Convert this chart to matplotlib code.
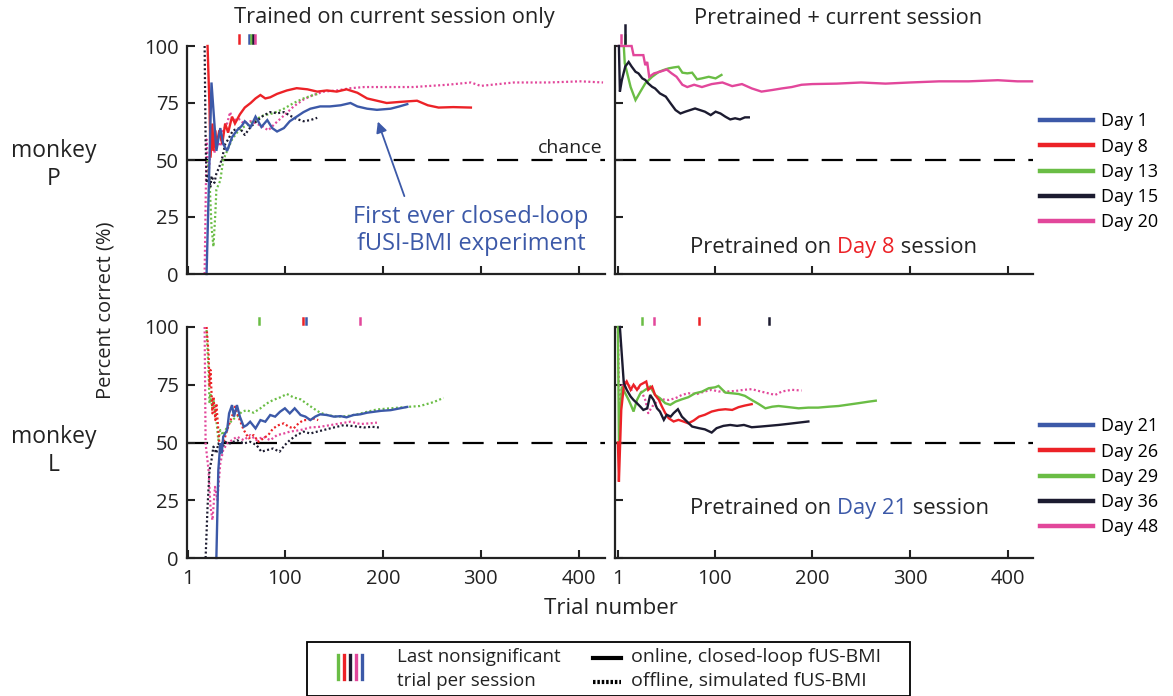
import matplotlib
matplotlib.use("Agg")
import matplotlib.pyplot as plt
from matplotlib.lines import Line2D
from matplotlib.patches import Rectangle

plt.rcParams['font.family'] = ['Open Sans', 'DejaVu Sans']

BLUE = '#3c59a8'
RED = '#ec2227'
GREEN = '#6abd45'
DARK = '#1c1b30'
PINK = '#e2479b'

# ---------------- monkey P, trained on current session only ----------------
P_own_day1_t = [20, 25, 28, 30, 34, 37, 41, 46, 51, 56, 59, 65, 70, 76, 82, 87, 92, 99, 105, 112,
                119, 126, 136, 146, 157, 167, 174, 184, 194, 208, 217, 225]
P_own_day1_y = [0, 84, 66, 54, 64, 57, 54, 60, 63, 65, 67, 64.5, 69, 64.5, 67.5, 64, 62.5, 64, 67, 69,
                71, 72.5, 73.5, 73.5, 74, 75, 73.5, 72.5, 72, 72.5, 73.5, 74.5]
P_own_day8_t = [21, 23, 24, 26, 27, 29, 30, 33, 36, 39, 42, 46, 49, 54, 59, 65, 70, 75, 80, 85, 92,
                102, 112, 123, 133, 143, 153, 163, 174, 184, 194, 204, 218, 235, 246, 257, 272, 290]
P_own_day8_y = [100, 73, 51, 66, 54, 63, 56, 63, 57, 66, 62, 69, 66, 70, 73, 75, 77, 78.5, 77, 77.5, 79,
                80.5, 81.5, 81, 80, 80.5, 80, 81, 79.5, 77, 76, 75, 75.5, 76, 74, 73, 73.2, 73]
P_own_day13_t = [21, 23, 25, 27, 29, 30, 34, 37, 41, 46, 51, 58, 65, 71, 78, 88, 99, 109, 119, 129, 134]
P_own_day13_y = [50, 41, 21, 12, 27, 37, 41, 50, 54, 59, 62, 64.5, 66, 68, 69.5, 70.5, 72.5, 75, 77, 78.5, 79]
P_own_day15_t = [18, 19, 20, 22, 24, 25, 28, 30, 33, 36, 39, 42, 47, 54, 59, 65, 71, 78, 85, 92, 99,
                 105, 112, 119, 126, 133]
P_own_day15_y = [100, 59, 40, 44, 38, 43, 40, 44, 47, 51, 57, 59, 63, 64, 61, 64.5, 67, 69.5, 71, 70.5, 71,
                 69.5, 68, 67, 67.5, 68.5]
P_own_day20_t = [18, 20, 22, 24, 25, 28, 30, 34, 37, 41, 44, 47, 53, 58, 65, 71, 78, 83, 90, 99, 109,
                 119, 129, 140, 153, 167, 181, 194, 208, 231, 266, 290, 300, 334, 369, 402, 425]
P_own_day20_y = [0, 59, 44, 54, 62, 53, 59, 56, 63, 66, 71, 67.5, 68, 66, 67, 66, 64.5, 63, 66, 69.5, 73.5,
                 76.5, 78.5, 80, 80.5, 81.5, 82, 82, 82, 82, 83, 84, 82.5, 84, 84, 84.5, 84]

# ---------------- monkey P, pretrained on day 8 ----------------
P_pre_day13_t = [7, 8, 14, 19, 24, 29, 36, 43, 48, 53, 58, 63, 67, 72, 77, 82, 87, 94, 101, 107]
P_pre_day13_y = [100, 92.4, 82, 76.3, 80, 83.6, 86.5, 88.7, 89.5, 90.2, 90.6, 90.9, 88.3, 88, 88.3, 85.4,
                 85.8, 86.5, 85.8, 87.3]
P_pre_day15_t = [2, 3, 5, 8.5, 12, 15, 19, 22, 26, 29, 32, 36, 39, 44, 50, 55, 60, 65, 70, 75, 80, 85,
                 90, 96, 101, 106, 111, 116, 121, 126, 131, 135]
P_pre_day15_y = [100, 80, 85, 91, 93, 91, 88.7, 88, 85.8, 85.1, 83.6, 82.1, 81.4, 79.2, 77.8, 74.8, 71.9,
                 70.4, 71.2, 71.9, 72.6, 71.9, 71.2, 69.7, 71.2, 70.4, 69, 67.8, 68.3, 67.8, 68.7, 68.7]
P_pre_day20_t = [2, 15, 17, 27, 29, 31, 33, 38, 44, 51, 56, 61, 67, 72, 79, 87, 97, 108, 118, 128, 138,
                 148, 159, 169, 179, 189, 200, 225, 250, 275, 300, 330, 360, 390, 410, 425]
P_pre_day20_y = [100, 100, 96, 96, 91.6, 93, 86.5, 88, 88.7, 89.7, 88, 86.5, 83, 82, 83, 82, 83.3, 84, 82.4,
                 83.3, 81.4, 80, 80.7, 81.4, 82, 83, 83.3, 83.5, 84, 83.5, 84, 84.5, 84.5, 85, 84.5, 84.5]

# ---------------- monkey L, trained on current session only ----------------
L_own_day21_t = [30, 32, 34, 35.5, 37, 41, 43, 46, 48, 51, 54, 58, 61, 64.5, 70, 75, 80, 85, 90, 95,
                 100, 105, 110, 116, 121, 126, 131, 136, 143, 150, 157, 163, 170, 177, 184, 191, 198,
                 208, 225]
L_own_day21_y = [0, 38, 49.6, 45.3, 52.5, 55.4, 62.6, 66.2, 61.2, 66.2, 61.2, 56.8, 57.5, 59, 56.1, 59.7,
                 59, 61.9, 61.2, 63.3, 64.8, 62.6, 64.8, 61.9, 61.2, 59.7, 61.2, 62.2, 61.9, 61.2, 61.4,
                 60.9, 61.9, 62.2, 62.9, 63.3, 63.7, 64, 65.4]
L_own_day26_t = [20, 22, 23, 24, 26, 27, 29, 30, 33, 35.5, 39, 42, 46, 49, 52.5, 58, 63, 68, 73, 78,
                 83, 88, 93.5, 99, 104, 109, 114, 119, 124, 129, 134]
L_own_day26_y = [100, 88.6, 74.1, 81.4, 62.6, 69.8, 59.7, 66.9, 49.6, 48.2, 52.5, 56.8, 61.2, 65.5, 61.2,
                 55.4, 51.8, 53.2, 50.3, 51.8, 53.2, 56.1, 57.5, 58.3, 56.8, 56.1, 58.3, 59.7, 59.7, 60.4,
                 59.7]
L_own_day29_t = [20, 22, 23, 24, 26, 27, 30, 32, 34, 37, 41, 46, 51, 56, 61, 68, 75, 81.5, 88, 95, 102,
                 109, 116, 122, 129, 136, 143, 153, 163, 174, 184, 194, 208, 225, 238, 252, 262]
L_own_day29_y = [98.7, 81.4, 66.9, 71.3, 64, 68.4, 59.7, 51, 55.4, 53.2, 56.8, 59.7, 61.2, 63.3, 64, 62.9,
                 64.8, 66.9, 68.4, 69.5, 71, 69.5, 68.7, 66.9, 64.8, 62.9, 61.9, 61.2, 61.4, 62.2, 63.3,
                 64.3, 64.8, 65.4, 65.8, 67.5, 69.3]
L_own_day36_t = [19, 21, 23, 25, 27, 30, 32, 35.5, 39, 44, 51, 58, 64.5, 71, 76, 81.5, 88, 94.5, 100,
                 105, 112, 119, 126, 133, 139.5, 150, 160, 170, 180.5, 189, 196]
L_own_day36_y = [0, 22.2, 38, 42.4, 48.2, 45.3, 49.6, 47.4, 50.3, 49.6, 51, 49.6, 50.3, 48.9, 46, 46.7,
                 47.4, 46, 48.9, 51, 53.2, 54.7, 53.9, 54.7, 55.4, 56.5, 57.5, 57.1, 56.5, 56.8, 56.5]
L_own_day48_t = [18, 19, 22, 24, 26, 28.6, 31, 34, 37, 41, 46, 51, 58, 64.5, 71, 78, 85, 92, 99, 105,
                 116, 126, 136, 146, 157, 167, 177, 187, 194]
L_own_day48_y = [100, 49.6, 38, 22.2, 16.4, 30.8, 25.1, 41, 46.7, 49.6, 51, 52.5, 51, 53.2, 51, 52.5, 51,
                 53.2, 53.9, 54.7, 55.4, 56.5, 56.8, 57.5, 58.3, 59, 58, 58.3, 58.6]

# ---------------- monkey L, pretrained on day 21 ----------------
L_pre_day26_t = [1, 2, 4.4, 7, 10, 14, 17, 20.5, 24, 27, 30, 32, 36, 39, 43, 46, 49.5, 53, 58, 63, 68,
                 73, 78.5, 84, 90, 97, 104, 111, 118, 124.5, 131, 138]
L_pre_day26_y = [50, 33, 64.1, 74.2, 76.4, 72.8, 75, 72.8, 75, 75.7, 76.4, 72.8, 74.2, 70.6, 68.4, 65.6,
                 62.7, 60.5, 59.1, 59.8, 59.1, 58.3, 59.5, 61.2, 62, 63.4, 64.1, 64.4, 64.1, 65.3, 66, 66.6]
L_pre_day29_t = [1, 2, 5, 8.5, 12, 15, 17, 20.5, 24, 29, 34, 39, 44, 49.5, 54.6, 60, 66.5, 73, 80, 87,
                 94, 100.6, 104, 111, 118, 124.5, 131, 138, 145, 152, 159, 165.5, 176, 186, 196, 206,
                 217, 227, 237, 247, 258, 265]
L_pre_day29_y = [100, 50, 74.2, 71.3, 68.4, 65.5, 63.4, 68.4, 71.3, 72.8, 74.2, 70.6, 69.2, 67, 66.3,
                 67.7, 68.7, 69.6, 71.3, 72, 73.5, 73.9, 74.5, 71.6, 71.3, 71, 70.2, 68.4, 66.7, 64.8,
                 65.5, 65.8, 65.3, 64.8, 65.1, 65.1, 65.5, 65.8, 66.4, 67, 67.7, 68.1]
L_pre_day36_t = [3, 7, 10, 14, 17, 20.5, 24, 27, 31, 34, 37.5, 41, 44, 48, 51, 55, 58, 62.4, 66.5, 71.6,
                 77, 84, 90, 97, 102, 109, 116, 123, 130, 138, 147, 155, 165.5, 176, 186, 196]
L_pre_day36_y = [100, 75.7, 72.8, 69.9, 68.4, 67, 65.5, 64.1, 64.8, 70.6, 68.4, 64.8, 63.4, 59.8, 62, 61.2,
                 62.7, 64.4, 61.2, 59.1, 56.9, 56.2, 55.7, 54.3, 56.2, 57.2, 57.6, 57.2, 57.6, 56.6, 56.9,
                 57.2, 57.6, 58.1, 58.6, 59.1]
L_pre_day48_t = [1, 2.4, 5, 8.5, 12, 15, 19, 22, 26, 29, 32, 36, 41, 46, 53, 60, 66.5, 73, 82, 90, 97,
                 104, 113, 121, 130, 138, 147, 155, 162, 169, 179, 189]
L_pre_day48_y = [100, 64.1, 74.2, 77.1, 75, 72.8, 74.2, 73.5, 71.3, 68.4, 62.7, 65.5, 67.7, 68.7, 68.4,
                 69.2, 70.6, 71.3, 71, 72.1, 72.8, 72.1, 72.1, 72.3, 72.8, 73.1, 72.1, 71.3, 70.6, 72.1,
                 72.8, 72.5]

# last nonsignificant trial per session (markers above each panel)
P_own_lastns = {'blue': 63, 'red': 53, 'green': 65, 'dark': 67, 'pink': 69}
P_pre_lastns = {'pink': 4, 'green': 8, 'dark': 8}
L_own_lastns = {'green': 74, 'red': 118, 'blue': 122, 'pink': 177}
L_pre_lastns = {'green': 26, 'pink': 38, 'red': 84, 'dark': 156}

P_days = ['Day 1', 'Day 8', 'Day 13', 'Day 15', 'Day 20']
L_days = ['Day 21', 'Day 26', 'Day 29', 'Day 36', 'Day 48']

COLORS = {'blue': BLUE, 'red': RED, 'green': GREEN, 'dark': DARK, 'pink': PINK}
DOTTED = (0, (0.9, 1.1))
INK = '#222222'

W, H = 1173, 696
fig = plt.figure(figsize=(W / 100, H / 100), dpi=100)


def px_axes(x0, y0, x1, y1):
    return fig.add_axes([x0 / W, 1 - y1 / H, (x1 - x0) / W, (y1 - y0) / H])


ax_po = px_axes(187, 46, 605, 274)
ax_pp = px_axes(615, 46, 1033, 274)
ax_lo = px_axes(187, 327, 605, 558)
ax_lp = px_axes(615, 327, 1033, 558)

for ax in (ax_po, ax_pp, ax_lo, ax_lp):
    ax.set_ylim(0, 100)
    for s in ('top', 'right'):
        ax.spines[s].set_visible(False)
    for s in ('left', 'bottom'):
        ax.spines[s].set_linewidth(1.6)
        ax.spines[s].set_color(INK)
    ax.set_yticks([0, 25, 50, 75, 100])
    ax.set_xticks([1, 100, 200, 300, 400])
    ax.tick_params(direction='in', length=6, width=1.5, labelsize=14.5, pad=6, colors=INK)
    ax.tick_params(axis='x', pad=8)
    ax.axhline(50, color='black', lw=1.6, dashes=(9.5, 6), zorder=0)
    ax.patch.set_alpha(0)

ax_po.set_xlim(0, 427)
ax_lo.set_xlim(0, 427)
ax_pp.set_xlim(-2, 426)
ax_lp.set_xlim(-2, 426)
ax_po.tick_params(labelbottom=False)
ax_pp.tick_params(labelbottom=False, labelleft=False)
ax_lp.tick_params(labelleft=False)


def curve(ax, t, y, color, online):
    if online:
        ax.plot(t, y, color=color, lw=1.7, solid_joinstyle='miter', clip_on=False)
    else:
        ax.plot(t, y, color=color, lw=1.6, linestyle=DOTTED, clip_on=False)


def lastns(ax, marks, top=105.0):
    for key, trial in marks.items():
        hi = 109 if (key == 'dark' and ax is ax_pp) else top
        ax.plot([trial, trial], [101.3, hi], color=COLORS[key], lw=1.8, clip_on=False)


curve(ax_po, P_own_day20_t, P_own_day20_y, PINK, False)
curve(ax_po, P_own_day13_t, P_own_day13_y, GREEN, False)
curve(ax_po, P_own_day15_t, P_own_day15_y, DARK, False)
curve(ax_po, P_own_day8_t, P_own_day8_y, RED, True)
curve(ax_po, P_own_day1_t, P_own_day1_y, BLUE, True)
lastns(ax_po, P_own_lastns)

curve(ax_pp, P_pre_day13_t, P_pre_day13_y, GREEN, True)
curve(ax_pp, P_pre_day20_t, P_pre_day20_y, PINK, True)
curve(ax_pp, P_pre_day15_t, P_pre_day15_y, DARK, True)
lastns(ax_pp, P_pre_lastns)

curve(ax_lo, L_own_day48_t, L_own_day48_y, PINK, False)
curve(ax_lo, L_own_day36_t, L_own_day36_y, DARK, False)
curve(ax_lo, L_own_day29_t, L_own_day29_y, GREEN, False)
curve(ax_lo, L_own_day26_t, L_own_day26_y, RED, False)
curve(ax_lo, L_own_day21_t, L_own_day21_y, BLUE, True)
lastns(ax_lo, L_own_lastns, top=104)

curve(ax_lp, L_pre_day48_t, L_pre_day48_y, PINK, False)
curve(ax_lp, L_pre_day29_t, L_pre_day29_y, GREEN, True)
curve(ax_lp, L_pre_day26_t, L_pre_day26_y, RED, True)
curve(ax_lp, L_pre_day36_t, L_pre_day36_y, DARK, True)
lastns(ax_lp, L_pre_lastns, top=104)

# panel annotations
ax_po.text(424, 51.5, 'chance', ha='right', va='bottom', fontsize=14, color=INK)
ax_po.annotate('', xy=(194, 68), xytext=(223, 33),
               arrowprops=dict(arrowstyle='-|>', color=BLUE, lw=1.3, mutation_scale=16))
ax_po.text(290, 19, 'First ever closed-loop\nfUSI-BMI experiment', ha='center', va='center',
           fontsize=17, color=BLUE, linespacing=1.15)


def pretrained_label(ax, x, y, day, color):
    t1 = ax.text(x, y, 'Pretrained on ', fontsize=15.8, color=INK, va='center', ha='left',
                 transform=ax.transAxes)
    t2 = ax.annotate(day, xy=(1, 0), xycoords=t1, va='bottom', ha='left', fontsize=15.8, color=color)
    ax.annotate(' session', xy=(1, 0), xycoords=t2, va='bottom', ha='left', fontsize=15.8, color=INK)


pretrained_label(ax_pp, 0.18, 0.118, 'Day 8', RED)
pretrained_label(ax_lp, 0.18, 0.216, 'Day 21', BLUE)

# titles and labels
fig.text(394 / W, 1 - 18 / H, 'Trained on current session only', ha='center', va='center',
         fontsize=15.7, color=INK)
fig.text(838 / W, 1 - 18 / H, 'Pretrained + current session', ha='center', va='center',
         fontsize=15.7, color=INK)
fig.text(611 / W, 1 - 608 / H, 'Trial number', ha='center', va='center', fontsize=16,
         color=INK)
fig.text(105 / W, 1 - 310 / H, 'Percent correct (%)', ha='center', va='center', rotation=90,
         fontsize=14.5, color=INK)
fig.text(54 / W, 1 - 165 / H, 'monkey\nP', ha='center', va='center', fontsize=16.5,
         color=INK, linespacing=1.25)
fig.text(54 / W, 1 - 451 / H, 'monkey\nL', ha='center', va='center', fontsize=16.5,
         color=INK, linespacing=1.25)

# day legends on the right
for days, anchor in ((P_days, 107), (L_days, 412)):
    handles = [Line2D([], [], color=COLORS[k], lw=3.2) for k in ('blue', 'red', 'green', 'dark', 'pink')]
    fig.legend(handles, days, loc='upper left', bbox_to_anchor=(1035 / W, 1 - anchor / H),
               frameon=False, fontsize=13, handlelength=2.9, handletextpad=0.45,
               labelspacing=0.4, borderaxespad=0, borderpad=0.3)

# bottom key box
fig.add_artist(Rectangle((307 / W, 0), (910 - 307) / W, (696 - 642) / H, transform=fig.transFigure,
                         fill=False, ec='black', lw=1.3, clip_on=False))
for i, k in enumerate(('green', 'red', 'dark', 'pink', 'blue')):
    x = (338 + 6 * i) / W
    fig.add_artist(Line2D([x, x], [1 - 679 / H, 1 - 655 / H], color=COLORS[k], lw=2.4,
                          transform=fig.transFigure))
fig.text(397 / W, 1 - 657 / H, 'Last nonsignificant', va='center', ha='left', fontsize=13.5,
         color=INK)
fig.text(397 / W, 1 - 681 / H, 'trial per session', va='center', ha='left', fontsize=13.5,
         color=INK)
fig.add_artist(Line2D([593 / W, 621 / W], [1 - 658 / H] * 2, color='black', lw=3,
                      transform=fig.transFigure))
fig.add_artist(Line2D([593 / W, 621 / W], [1 - 682 / H] * 2, color='black', lw=3,
                      linestyle=(0, (0.6, 0.45)), transform=fig.transFigure))
fig.text(631 / W, 1 - 657 / H, 'online, closed-loop fUS-BMI', va='center', ha='left',
         fontsize=14, color=INK)
fig.text(631 / W, 1 - 681 / H, 'offline, simulated fUS-BMI', va='center', ha='left',
         fontsize=14, color=INK)

fig.savefig('out.png', dpi=100)
